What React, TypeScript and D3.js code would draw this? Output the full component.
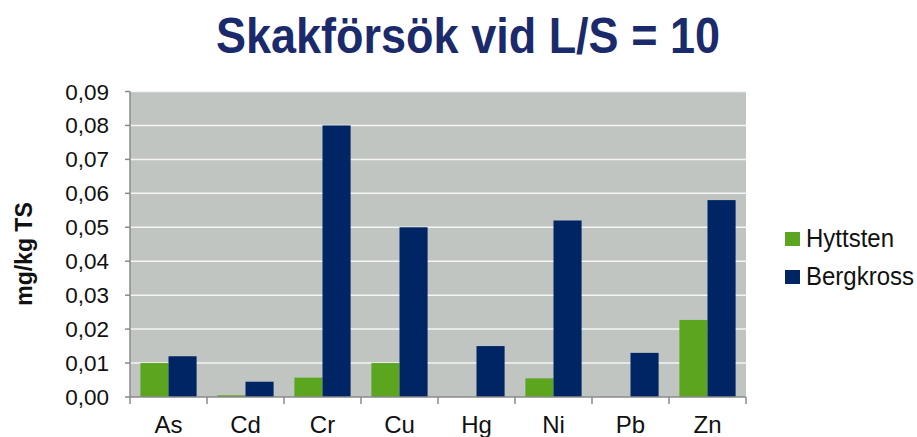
import React from "react";
import * as d3 from "d3";

const categories = ["As", "Cd", "Cr", "Cu", "Hg", "Ni", "Pb", "Zn"];
const hyttsten = [0.01, 0.0005, 0.0057, 0.01, 0.0, 0.0055, 0.0, 0.0227];
const bergkross = [0.012, 0.0045, 0.08, 0.05, 0.015, 0.052, 0.013, 0.058];
const seriesNames = ["Hyttsten", "Bergkross"];
const yTicks = [0, 0.01, 0.02, 0.03, 0.04, 0.05, 0.06, 0.07, 0.08, 0.09];

const W = 917;
const H = 437;
const plot = { left: 130, right: 746, top: 91.5, bottom: 397 };
const colors = ["#5ba51f", "#002564"];
const font = "'Liberation Sans', Arial, sans-serif";

export default function App() {
  const x = d3
    .scaleBand<string>()
    .domain(categories)
    .range([plot.left, plot.right]);
  const y = d3.scaleLinear().domain([0, 0.09]).range([plot.bottom, plot.top]);
  const inner = d3
    .scaleBand<string>()
    .domain(seriesNames)
    .range([0, x.bandwidth()])
    .paddingInner(0)
    .paddingOuter(0.37);
  const fmt = (v: number) => d3.format(".2f")(v).replace(".", ",");
  const data = [hyttsten, bergkross];

  return (
    <svg
      width={W}
      height={H}
      style={{ position: "absolute", left: 0, top: 0, background: "#fff" }}
      fontFamily={font}
    >
      <text
        transform="translate(468,53) scale(1,1.1)"
        textAnchor="middle"
        fontSize={45}
        fontWeight="bold"
        fill="#1b2a6b"
      >
        Skakförsök vid L/S = 10
      </text>

      <rect
        x={plot.left}
        y={plot.top}
        width={plot.right - plot.left}
        height={plot.bottom - plot.top}
        fill="#c0c5c2"
      />
      {yTicks.slice(1).map((t) => (
        <line
          key={t}
          x1={plot.left}
          x2={plot.right}
          y1={y(t)}
          y2={y(t)}
          stroke="#f4f5f4"
          strokeWidth={1.5}
        />
      ))}

      {data.map((vals, si) =>
        categories.map((c, i) => (
          <rect
            key={`${si}-${c}`}
            x={(x(c) ?? 0) + (inner(seriesNames[si]) ?? 0)}
            y={y(vals[i])}
            width={inner.bandwidth()}
            height={y(0) - y(vals[i])}
            fill={colors[si]}
          />
        ))
      )}

      {/* axes */}
      <line
        x1={plot.left}
        x2={plot.left}
        y1={plot.top}
        y2={plot.bottom}
        stroke="#8a8a8a"
        strokeWidth={1.5}
      />
      <line
        x1={plot.left}
        x2={plot.right}
        y1={plot.bottom}
        y2={plot.bottom}
        stroke="#8a8a8a"
        strokeWidth={1.5}
      />
      {yTicks.map((t) => (
        <g key={t}>
          <line
            x1={plot.left - 5}
            x2={plot.left}
            y1={y(t)}
            y2={y(t)}
            stroke="#8a8a8a"
            strokeWidth={1.5}
          />
          <text
            x={109}
            y={y(t) + 8}
            textAnchor="end"
            fontSize={22.5}
            fill="#111"
          >
            {fmt(t)}
          </text>
        </g>
      ))}
      {categories.map((c) => (
        <line
          key={`t-${c}`}
          x1={x(c) ?? 0}
          x2={x(c) ?? 0}
          y1={plot.bottom}
          y2={plot.bottom + 7}
          stroke="#8a8a8a"
          strokeWidth={1.5}
        />
      ))}
      <line
        x1={plot.right}
        x2={plot.right}
        y1={plot.bottom}
        y2={plot.bottom + 7}
        stroke="#8a8a8a"
        strokeWidth={1.5}
      />
      {categories.map((c) => (
        <text
          key={`l-${c}`}
          x={(x(c) ?? 0) + x.bandwidth() / 2}
          y={433}
          textAnchor="middle"
          fontSize={24}
          fill="#111"
        >
          {c}
        </text>
      ))}

      <text
        transform={`translate(32,254) rotate(-90)`}
        textAnchor="middle"
        fontSize={23}
        fontWeight="bold"
        fill="#111"
      >
        mg/kg TS
      </text>

      {seriesNames.map((s, i) => (
        <g key={s} transform={`translate(785,${247 + i * 38})`}>
          <rect x={0} y={-15} width={15} height={14} fill={colors[i]} />
          <text
            x={21}
            y={0}
            fontSize={24}
            fill="#111"
            transform="scale(1,1.1)"
          >
            {s}
          </text>
        </g>
      ))}
    </svg>
  );
}
